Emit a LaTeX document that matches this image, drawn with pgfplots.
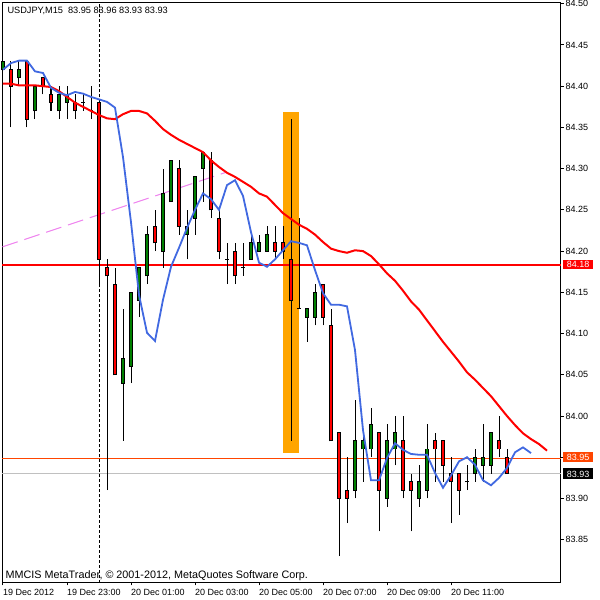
\documentclass[border=0pt]{standalone}
\usepackage{pgfplots}
\pgfplotsset{compat=1.18}
\usepackage{pgfplotstable}
\usepackage{fontspec}
\setmainfont{Liberation Sans}
\definecolor{mtred}{RGB}{255,0,0}
\definecolor{mtgreen}{RGB}{0,128,0}
\definecolor{mtblue}{RGB}{65,105,225}
\definecolor{mtorange}{RGB}{255,165,0}
\definecolor{mtorangered}{RGB}{255,69,0}
\definecolor{mtviolet}{RGB}{238,130,238}
\definecolor{mtsilver}{RGB}{192,192,192}

\pgfplotstableread{
i o h l c
-12 84.42 84.43 84.42 84.43
-11 84.42 84.43 84.35 84.40
-10 84.41 84.43 84.40 84.42
-9 84.43 84.43 84.35 84.36
-8 84.37 84.40 84.36 84.40
-7 84.41 84.41 84.39 84.40
-6 84.39 84.40 84.37 84.38
-5 84.37 84.40 84.36 84.39
-4 84.38 84.40 84.36 84.39
-3 84.38 84.39 84.36 84.37
-2 84.38 84.39 84.37 84.38
-1 84.37 84.40 84.36 84.37
0 84.38 84.38 84.16 84.19
1 84.18 84.19 83.91 84.17
2 84.16 84.18 84.05 84.05
3 84.04 84.13 83.97 84.07
4 84.06 84.15 84.04 84.15
5 84.14 84.18 84.12 84.18
6 84.17 84.23 84.16 84.22
7 84.23 84.25 84.20 84.21
8 84.20 84.30 84.18 84.27
9 84.26 84.31 84.26 84.31
10 84.30 84.31 84.22 84.23
11 84.22 84.25 84.19 84.23
12 84.24 84.29 84.22 84.29
13 84.30 84.32 84.26 84.32
14 84.31 84.32 84.24 84.25
15 84.24 84.25 84.19 84.20
16 84.19 84.21 84.16 84.19
17 84.20 84.21 84.16 84.17
18 84.18 84.21 84.17 84.18
19 84.19 84.22 84.19 84.21
20 84.20 84.22 84.20 84.21
21 84.20 84.23 84.20 84.22
22 84.21 84.23 84.19 84.20
23 84.21 84.23 84.19 84.20
24 84.19 84.36 83.97 84.14
25 84.13 84.24 84.13 84.13
26 84.12 84.13 84.09 84.13
27 84.12 84.16 84.11 84.15
28 84.16 84.16 84.11 84.12
29 84.11 84.13 83.97 83.97
30 83.98 83.98 83.83 83.90
31 83.91 83.95 83.87 83.90
32 83.91 84.02 83.90 83.97
33 83.96 83.98 83.92 83.97
34 83.96 84.01 83.95 83.99
35 83.98 83.98 83.86 83.91
36 83.90 83.99 83.89 83.97
37 83.96 84.00 83.94 83.98
38 83.97 84.00 83.90 83.91
39 83.92 83.93 83.86 83.91
40 83.90 83.94 83.89 83.92
41 83.91 83.99 83.90 83.96
42 83.97 83.98 83.92 83.96
43 83.97 83.97 83.92 83.94
44 83.93 83.95 83.87 83.92
45 83.93 83.93 83.88 83.91
46 83.92 83.94 83.91 83.92
47 83.93 83.96 83.92 83.95
48 83.94 83.99 83.92 83.95
49 83.94 83.98 83.93 83.98
50 83.97 84.00 83.95 83.96
51 83.95 83.96 83.93 83.93
}\candles

\pgfplotstableread{
i p
-12 84.403
-11 84.403
-10 84.401
-9 84.401
-8 84.401
-7 84.400
-6 84.399
-5 84.394
-4 84.387
-3 84.380
-2 84.375
-1 84.370
0 84.365
1 84.361
2 84.360
3 84.366
4 84.370
5 84.370
6 84.367
7 84.358
8 84.348
9 84.341
10 84.335
11 84.330
12 84.325
13 84.320
14 84.310
15 84.302
16 84.295
17 84.290
18 84.284
19 84.278
20 84.270
21 84.266
22 84.256
23 84.246
24 84.239
25 84.232
26 84.227
27 84.220
28 84.211
29 84.203
30 84.200
31 84.198
32 84.201
33 84.200
34 84.194
35 84.184
36 84.173
37 84.164
38 84.152
39 84.139
40 84.129
41 84.116
42 84.103
43 84.090
44 84.078
45 84.066
46 84.053
47 84.044
48 84.034
49 84.024
50 84.012
51 84.000
52 83.989
53 83.979
54 83.972
55 83.966
56 83.958
}\redma

\pgfplotstableread{
i p
-12 84.420
-11 84.428
-10 84.431
-9 84.431
-8 84.418
-7 84.416
-6 84.398
-5 84.392
-4 84.389
-3 84.393
-2 84.391
-1 84.387
0 84.384
1 84.381
2 84.374
3 84.314
4 84.235
5 84.147
6 84.101
7 84.091
8 84.141
9 84.181
10 84.204
11 84.228
12 84.250
13 84.270
14 84.263
15 84.250
16 84.280
17 84.286
18 84.267
19 84.223
20 84.186
21 84.181
22 84.190
23 84.201
24 84.212
25 84.210
26 84.207
27 84.177
28 84.149
29 84.135
30 84.135
31 84.133
32 84.080
33 83.983
34 83.922
35 83.922
36 83.949
37 83.967
38 83.959
39 83.954
40 83.953
41 83.953
42 83.931
43 83.913
44 83.928
45 83.945
46 83.950
47 83.941
48 83.922
49 83.916
50 83.925
51 83.937
52 83.956
53 83.962
54 83.955
}\bluema

\begin{document}
\begin{tikzpicture}[x=1pt,y=1pt]
\path[use as bounding box] (0,0) rectangle (600,600);
\begin{axis}[
  at={(2.5pt,17.5pt)}, anchor=south west,
  scale only axis, width=558pt, height=580pt,
  xmin=-12.0625, xmax=57.6875, ymin=83.7981, ymax=84.5015,
  clip=false,
  axis line style={black, line width=1pt},
  tick style={black, line width=1pt},
  tick align=outside, major tick length=3pt,
  xtick pos=bottom, ytick pos=right,
  yticklabel pos=right,
  xtick={-12,-4,4,12,20,28,36,44},
  xticklabels={19 Dec 2012,19 Dec 23:00,20 Dec 01:00,20 Dec 03:00,20 Dec 05:00,20 Dec 07:00,20 Dec 09:00,20 Dec 11:00},
  ytick={83.85,83.90,83.95,84.00,84.05,84.10,84.15,84.20,84.25,84.30,84.35,84.40,84.45,84.50},
  yticklabels={83.85,83.90,83.95,84.00,84.05,84.10,84.15,84.20,84.25,84.30,84.35,84.40,84.45,84.50},
  ticklabel style={font=\fontsize{9}{9}\selectfont, inner sep=0pt},
  xticklabel style={anchor=north west, yshift=-3.5pt},
  yticklabel style={anchor=west, xshift=2pt},
  candle/.style={draw=none, mark=none, error bars/.cd, y dir=plus, y explicit, error mark=none},
]
% orange rectangle
\addplot[fill=mtorange, draw=none] coordinates {(23,83.955) (25,83.955) (25,84.369) (23,84.369)} -- cycle;
% horizontal lines
\addplot[mtsilver, line width=1pt] coordinates {(-12.0625,83.930) (57.6875,83.930)};
\addplot[mtorangered, line width=1pt] coordinates {(-12.0625,83.949) (57.6875,83.949)};
\addplot[mtred, line width=2pt] coordinates {(-12.0625,84.1835) (57.6875,84.1835)};
% period separator
\addplot[black, line width=1pt, dash pattern=on 3pt off 2pt] coordinates {(0,83.7981) (0,84.5015)};
% trend line
\addplot[mtviolet, line width=1pt, dash pattern=on 16pt off 7pt] coordinates {(-12.0625,84.2052) (16,84.2959)};
% wicks
\addplot[candle, error bar style={draw=black, line width=1pt}]
  table[x=i, y=l, y error expr={\thisrow{h}-\thisrow{l}}] {\candles};
% body outlines
\addplot[candle, error bar style={draw=black, line width=4.6pt}]
  table[x=i, y expr={min(\thisrow{o},\thisrow{c})-0.0006}, y error expr={abs(\thisrow{c}-\thisrow{o})+0.0012}] {\candles};
% green bodies
\addplot[candle, error bar style={draw=mtgreen, line width=2.6pt}]
  table[x=i, y expr={min(\thisrow{o},\thisrow{c})+0.0006}, y error expr={max(\thisrow{c}-\thisrow{o}-0.0012,0)}] {\candles};
% red bodies
\addplot[candle, error bar style={draw=mtred, line width=2.6pt}]
  table[x=i, y expr={min(\thisrow{o},\thisrow{c})+0.0006}, y error expr={max(\thisrow{o}-\thisrow{c}-0.0012,0)}] {\candles};
% moving averages
\addplot[mtred, line width=2pt] table[x=i, y=p] {\redma};
\addplot[mtblue, line width=1.8pt] table[x=i, y=p] {\bluema};
% price boxes
\node[fill=mtred, text=white, inner sep=0pt, minimum width=30pt, minimum height=9.5pt, anchor=west, font=\fontsize{9}{9}\selectfont, xshift=2.5pt] at (axis cs:57.6875,84.1835) {84.18};
\node[fill=mtorangered, text=white, inner sep=0pt, minimum width=30pt, minimum height=10.5pt, anchor=west, font=\fontsize{9}{9}\selectfont, xshift=2.5pt] at (axis cs:57.6875,83.950) {83.95};
\node[fill=black, text=white, inner sep=0pt, minimum width=30pt, minimum height=11pt, anchor=west, font=\fontsize{9}{9}\selectfont, xshift=2.5pt] at (axis cs:57.6875,83.9297) {83.93};
\end{axis}
\node[anchor=base west, inner sep=0pt, font=\fontsize{9.2}{9.2}\selectfont] at (7.3,586) {USDJPY,M15\hspace{5pt}83.95 83.96 83.93 83.93};
\node[anchor=base west, inner sep=0pt, font=\fontsize{10.8}{10.8}\selectfont] at (5.5,21) {MMCIS MetaTrader, © 2001-2012, MetaQuotes Software Corp.};
\end{tikzpicture}
\end{document}
